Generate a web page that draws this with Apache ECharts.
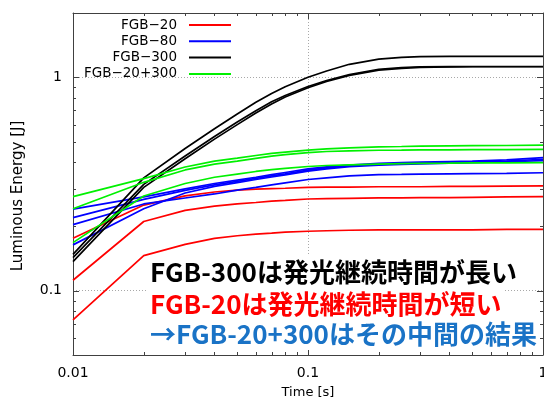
<!DOCTYPE html>
<html>
<head>
<meta charset="utf-8">
<script src="https://cdn.jsdelivr.net/npm/echarts@6/dist/echarts.min.js"></script>
<style>
  html, body { margin: 0; padding: 0; background: #ffffff; }
  #chart { width: 544px; height: 398px; }
</style>
</head>
<body>
<div id="chart"></div>
<script>
// Sampling times [s]
const times = [0.01, 0.02, 0.03, 0.04, 0.05, 0.06, 0.07, 0.08, 0.1, 0.12, 0.15, 0.2, 0.25, 0.3, 0.4, 0.5, 0.7, 1.0];

// Luminous energy [J] per run, one array per measured shot
const fgb20Runs = [
  [0.176, 0.252, 0.278, 0.290, 0.296, 0.299, 0.301, 0.302, 0.305, 0.306, 0.306, 0.307, 0.307, 0.307, 0.308, 0.308, 0.309, 0.310],
  [0.112, 0.211, 0.238, 0.249, 0.255, 0.259, 0.263, 0.265, 0.269, 0.270, 0.271, 0.272, 0.272, 0.273, 0.273, 0.274, 0.275, 0.276],
  [0.073, 0.146, 0.165, 0.176, 0.181, 0.184, 0.186, 0.188, 0.190, 0.191, 0.192, 0.193, 0.193, 0.193, 0.193, 0.193, 0.194, 0.194]
];
const fgb80Runs = [
  [0.241, 0.275, 0.300, 0.318, 0.330, 0.340, 0.350, 0.358, 0.372, 0.380, 0.388, 0.395, 0.398, 0.400, 0.403, 0.405, 0.410, 0.420],
  [0.220, 0.268, 0.295, 0.313, 0.325, 0.336, 0.345, 0.353, 0.367, 0.376, 0.384, 0.391, 0.394, 0.396, 0.399, 0.401, 0.405, 0.413],
  [0.164, 0.242, 0.287, 0.308, 0.321, 0.332, 0.341, 0.349, 0.363, 0.372, 0.381, 0.388, 0.391, 0.393, 0.396, 0.398, 0.402, 0.407],
  [0.204, 0.255, 0.272, 0.284, 0.296, 0.305, 0.313, 0.320, 0.332, 0.338, 0.345, 0.350, 0.351, 0.352, 0.353, 0.354, 0.355, 0.357]
];
const fgb300Runs = [
  [0.148, 0.338, 0.464, 0.574, 0.673, 0.763, 0.839, 0.903, 1.000, 1.070, 1.150, 1.215, 1.240, 1.250, 1.252, 1.253, 1.253, 1.253],
  [0.143, 0.315, 0.428, 0.528, 0.617, 0.697, 0.767, 0.822, 0.905, 0.965, 1.030, 1.090, 1.110, 1.120, 1.122, 1.123, 1.123, 1.123],
  [0.137, 0.305, 0.415, 0.513, 0.600, 0.680, 0.750, 0.808, 0.893, 0.955, 1.020, 1.080, 1.100, 1.112, 1.118, 1.120, 1.120, 1.120]
];
const fgbMixRuns = [
  [0.276, 0.335, 0.380, 0.405, 0.418, 0.430, 0.440, 0.446, 0.456, 0.462, 0.467, 0.472, 0.474, 0.476, 0.477, 0.478, 0.479, 0.481],
  [0.242, 0.322, 0.368, 0.392, 0.405, 0.417, 0.427, 0.434, 0.444, 0.449, 0.452, 0.455, 0.456, 0.457, 0.457, 0.458, 0.458, 0.459],
  [0.168, 0.278, 0.318, 0.340, 0.352, 0.362, 0.369, 0.374, 0.382, 0.386, 0.389, 0.392, 0.394, 0.395, 0.396, 0.397, 0.397, 0.398]
];

// Legend names and colours
const groupNames = ['FGB\u221220', 'FGB\u221280', 'FGB\u2212300', 'FGB\u221220+300'];
const groupColors = ['#ff0000', '#0000ff', '#000000', '#00f000'];

// Axis ranges and ticks
const xRange = [0.01, 1];
const yRange = [0.05, 2];
const xMajorTicks = [0.01, 0.1, 1];
const xMinorTicks = [0.02, 0.03, 0.04, 0.05, 0.06, 0.07, 0.08, 0.09, 0.2, 0.3, 0.4, 0.5, 0.6, 0.7, 0.8, 0.9];
const yMajorTicks = [0.1, 1];
const yMinorTicks = [0.06, 0.07, 0.08, 0.09, 0.2, 0.3, 0.4, 0.5, 0.6, 0.7, 0.8, 0.9];

// Annotation lines
const notes = [
  { text: 'FGB-300は発光継続時間が長い', color: '#000000' },
  { text: 'FGB-20は発光継続時間が短い', color: '#ff0000' },
  { text: '→FGB-20+300はその中間の結果', color: '#1a73c6' }
];

const labelFont = '"DejaVu Sans", sans-serif';
const frameColor = '#404040';
const frameStyle = { color: frameColor, width: 1 };

function buildSeries(name, color, runs) {
  return runs.map(vals => ({
    name: name,
    type: 'line',
    data: times.map((t, i) => [t, vals[i]]),
    symbol: 'none',
    showSymbol: false,
    color: color,
    itemStyle: { color: color },
    lineStyle: { color: color, width: 1.7 },
    animation: false,
    silent: true
  }));
}

// Inward tick marks on all four sides (kind: 0 x-major, 1 x-minor, 2 y-major, 3 y-minor)
const tickData = [].concat(
  xMajorTicks.map(v => [v, yRange[0], 0]),
  xMinorTicks.map(v => [v, yRange[0], 1]),
  yMajorTicks.map(v => [xRange[0], v, 2]),
  yMinorTicks.map(v => [xRange[0], v, 3])
);

function renderTick(params, api) {
  const kind = api.value(2);
  const len = (kind === 0 || kind === 2) ? 6 : 3;
  const style = { stroke: frameColor, lineWidth: 1 };
  if (kind <= 1) {
    const b = api.coord([api.value(0), yRange[0]]);
    const t = api.coord([api.value(0), yRange[1]]);
    const x = Math.round(b[0]) + 0.5;
    return {
      type: 'group',
      children: [
        { type: 'line', shape: { x1: x, y1: b[1], x2: x, y2: b[1] - len }, style: style },
        { type: 'line', shape: { x1: x, y1: t[1], x2: x, y2: t[1] + len }, style: style }
      ]
    };
  }
  const l = api.coord([xRange[0], api.value(1)]);
  const r = api.coord([xRange[1], api.value(1)]);
  const y = Math.round(l[1]) + 0.5;
  return {
    type: 'group',
    children: [
      { type: 'line', shape: { x1: l[0], y1: y, x2: l[0] + len, y2: y }, style: style },
      { type: 'line', shape: { x1: r[0], y1: y, x2: r[0] - len, y2: y }, style: style }
    ]
  };
}

const series = []
  .concat(buildSeries(groupNames[0], groupColors[0], fgb20Runs))
  .concat(buildSeries(groupNames[1], groupColors[1], fgb80Runs))
  .concat(buildSeries(groupNames[2], groupColors[2], fgb300Runs))
  .concat(buildSeries(groupNames[3], groupColors[3], fgbMixRuns))
  .concat([{
    type: 'custom',
    name: 'ticks',
    coordinateSystem: 'cartesian2d',
    data: tickData,
    encode: { x: 0, y: 1 },
    renderItem: renderTick,
    clip: false,
    silent: true,
    animation: false,
    z: 3
  }]);

function logAxis(range, position, opts) {
  return Object.assign({
    type: 'log',
    logBase: 10,
    min: range[0],
    max: range[1],
    position: position,
    axisLine: { show: true, lineStyle: frameStyle },
    axisTick: { show: false },
    axisLabel: { show: false },
    splitLine: { show: false },
    minorTick: { show: false },
    minorSplitLine: { show: false }
  }, opts || {});
}

const gridLine = { show: true, lineStyle: { color: '#a8a8a8', width: 1, type: [1, 2] } };

const option = {
  animation: false,
  backgroundColor: '#ffffff',
  grid: { left: 73, right: 1, top: 13, bottom: 43, containLabel: false, outerBoundsMode: 'none' },
  legend: {
    data: groupNames,
    orient: 'vertical',
    align: 'right',
    right: 312,
    top: 18,
    padding: 0,
    itemWidth: 42,
    itemHeight: 14,
    itemGap: 2.3,
    selectedMode: false,
    itemStyle: { opacity: 0 },
    textStyle: { fontFamily: labelFont, fontSize: 13.5, color: '#000', lineHeight: 14, padding: [0, 7, 0, 0] }
  },
  xAxis: [
    logAxis(xRange, 'bottom', {
      axisLabel: {
        show: true, customValues: xMajorTicks, margin: 11,
        fontFamily: labelFont, fontSize: 14, color: '#000',
        formatter: v => String(v)
      },
      axisTick: { show: false, customValues: xMajorTicks },
      splitLine: gridLine,
      name: 'Time [s]',
      nameLocation: 'middle',
      nameGap: 31,
      nameTextStyle: { fontFamily: labelFont, fontSize: 13, color: '#000' }
    }),
    logAxis(xRange, 'top')
  ],
  yAxis: [
    logAxis(yRange, 'left', {
      axisLabel: {
        show: true, customValues: yMajorTicks, margin: 11,
        fontFamily: labelFont, fontSize: 14, color: '#000',
        formatter: v => String(v)
      },
      axisTick: { show: false, customValues: yMajorTicks },
      splitLine: gridLine
    }),
    logAxis(yRange, 'right')
  ],
  series: series,
  graphic: [
    {
      type: 'text', x: 18, y: 196, rotation: Math.PI / 2, z: 100,
      style: { text: 'Luminous Energy [J]', fontFamily: labelFont, fontSize: 15, fill: '#000', align: 'center', verticalAlign: 'middle' }
    }
  ].concat(notes.map((n, i) => ({
    type: 'text',
    x: 148,
    y: [272, 304, 334][i],
    z: 100,
    style: {
      text: n.text,
      fontFamily: '"Noto Sans CJK JP", sans-serif',
      fontSize: 26,
      fontWeight: 'bold',
      fill: n.color,
      align: 'left',
      verticalAlign: 'middle',
      backgroundColor: '#ffffff',
      padding: [3, 2, 3, 2]
    }
  })))
};

const chart = echarts.init(document.getElementById('chart'), null, { renderer: 'canvas' });
chart.setOption(option);
</script>
</body>
</html>
